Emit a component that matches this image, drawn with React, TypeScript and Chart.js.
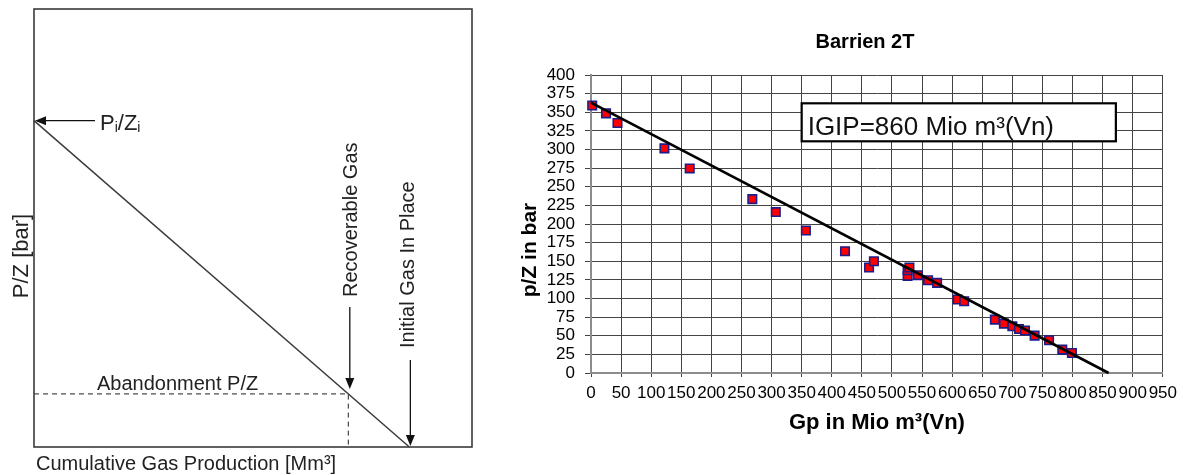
import { useEffect, useRef } from "react";
import { Chart, registerables } from "chart.js";

Chart.register(...registerables);

const FONT = "'Liberation Sans', Arial, Helvetica, sans-serif";

// ---- Left schematic (dimensionless units 0..100) ----
const schematicPiZi = 74.5;
const schematicIGIP = 85.7;
const schematicRecoverable = 71.76;
const schematicAbandonment = 12.12;

// ---- Right chart: Barrien 2T ----
const gpValues = [2, 25, 44, 122, 164, 268, 307, 357, 422, 462, 470, 526, 526, 529, 543, 560, 575, 609, 620, 671, 686, 700, 711, 721, 737, 761, 783, 799];
const pzValues = [359, 348.5, 335.5, 301.5, 274.6, 233.4, 216, 191.3, 163.5, 141.6, 150, 130.3, 138, 141.6, 131.3, 124.5, 121, 98.6, 96.3, 71.7, 66.3, 62.7, 59.1, 57, 50.2, 43.9, 31.4, 26.9];
const fitGp = [0, 860];
const fitPz = [363, 0];
const xTickValues = [0, 50, 100, 150, 200, 250, 300, 350, 400, 450, 500, 550, 600, 650, 700, 750, 800, 850, 900, 950];
const yTickValues = [0, 25, 50, 75, 100, 125, 150, 175, 200, 225, 250, 275, 300, 325, 350, 375, 400];
const igipLabel = "IGIP=860 Mio m³(Vn)";

function drawArrow(ctx: CanvasRenderingContext2D, x1: number, y1: number, x2: number, y2: number, head = 11, half = 4.5) {
  const ang = Math.atan2(y2 - y1, x2 - x1);
  const bx = x2 - head * Math.cos(ang);
  const by = y2 - head * Math.sin(ang);
  ctx.beginPath();
  ctx.moveTo(x1, y1);
  ctx.lineTo(bx, by);
  ctx.stroke();
  ctx.beginPath();
  ctx.moveTo(x2, y2);
  ctx.lineTo(bx + half * Math.sin(ang), by - half * Math.cos(ang));
  ctx.lineTo(bx - half * Math.sin(ang), by + half * Math.cos(ang));
  ctx.closePath();
  ctx.fill();
}

function vText(ctx: CanvasRenderingContext2D, text: string, x: number, y: number, align: CanvasTextAlign) {
  ctx.save();
  ctx.translate(x, y);
  ctx.rotate(-Math.PI / 2);
  ctx.textAlign = align;
  ctx.textBaseline = "middle";
  ctx.fillText(text, 0, 0);
  ctx.restore();
}

const leftDecor = {
  id: "leftDecor",
  afterDraw(chart: any) {
    const { ctx, chartArea: a, scales } = chart;
    const xs = scales.x;
    const ys = scales.y;
    ctx.save();
    ctx.strokeStyle = "#3a3a3a";
    ctx.lineWidth = 1.6;
    ctx.strokeRect(a.left, a.top, a.right - a.left, a.bottom - a.top);

    ctx.strokeStyle = "#111";
    ctx.fillStyle = "#111";
    ctx.lineWidth = 1.3;
    const piY = ys.getPixelForValue(schematicPiZi);
    drawArrow(ctx, a.left + 61, piY, a.left + 1, piY);
    const rx = xs.getPixelForValue(schematicRecoverable) + 1.5;
    const ry = ys.getPixelForValue(schematicAbandonment);
    drawArrow(ctx, rx, ry - 87, rx, ry - 5);
    const ix = xs.getPixelForValue(schematicIGIP) + 1;
    drawArrow(ctx, ix, a.bottom - 87, ix, a.bottom - 1);

    ctx.fillStyle = "#222";
    ctx.textBaseline = "alphabetic";
    ctx.textAlign = "left";
    // Pi/Zi
    let px = 100;
    const base = piY + 9.5;
    ctx.font = `22px ${FONT}`;
    ctx.fillText("P", px, base);
    px += ctx.measureText("P").width;
    ctx.font = `14px ${FONT}`;
    ctx.fillText("i", px, base + 2);
    px += ctx.measureText("i").width;
    ctx.font = `22px ${FONT}`;
    ctx.fillText("/Z", px, base);
    px += ctx.measureText("/Z").width;
    ctx.font = `14px ${FONT}`;
    ctx.fillText("i", px, base + 2);

    ctx.font = `20px ${FONT}`;
    ctx.fillText("Abandonment P/Z", 97, 390);
    ctx.fillText("Cumulative Gas Production [Mm³]", 36, 470);
    vText(ctx, "Recoverable Gas", 351.5, 297, "left");
    vText(ctx, "Initial Gas In Place", 408.5, 348, "left");
    ctx.font = `22px ${FONT}`;
    vText(ctx, "P/Z [bar]", 22, 256, "center");
    ctx.restore();
  },
};

const rightDecor = {
  id: "rightDecor",
  afterDraw(chart: any) {
    const { ctx, scales } = chart;
    const xs = scales.x;
    const ys = scales.y;
    ctx.save();
    // IGIP box
    const bx1 = xs.getPixelForValue(350);
    const bx2 = xs.getPixelForValue(872);
    const by1 = ys.getPixelForValue(362);
    const by2 = ys.getPixelForValue(311);
    ctx.fillStyle = "#fff";
    ctx.fillRect(bx1, by1, bx2 - bx1, by2 - by1);
    ctx.strokeStyle = "#000";
    ctx.lineWidth = 2.2;
    ctx.strokeRect(bx1, by1, bx2 - bx1, by2 - by1);
    ctx.fillStyle = "#111";
    ctx.font = `26px ${FONT}`;
    ctx.textAlign = "left";
    ctx.textBaseline = "alphabetic";
    ctx.fillText(igipLabel, bx1 + 6, by2 - 6);

    // Title
    ctx.fillStyle = "#000";
    ctx.font = `bold 20px ${FONT}`;
    ctx.textAlign = "center";
    ctx.textBaseline = "middle";
    ctx.fillText("Barrien 2T", 385, 42);
    // Y title
    ctx.font = `bold 21px ${FONT}`;
    vText(ctx, "p/Z in bar", 50, 250, "center");
    ctx.restore();
  },
};

export default function App() {
  const leftRef = useRef<HTMLCanvasElement>(null);
  const rightRef = useRef<HTMLCanvasElement>(null);

  useEffect(() => {
    const left = new Chart(leftRef.current as HTMLCanvasElement, {
      type: "scatter",
      data: {
        datasets: [
          {
            data: [
              { x: 0, y: schematicPiZi },
              { x: schematicIGIP, y: 0 },
            ],
            showLine: true,
            borderColor: "#3c3c3c",
            borderWidth: 1.5,
            pointRadius: 0,
            clip: false,
          } as any,
          {
            data: [
              { x: 0, y: schematicAbandonment },
              { x: schematicRecoverable, y: schematicAbandonment },
              { x: schematicRecoverable, y: 0 },
            ],
            showLine: true,
            borderColor: "#222",
            borderWidth: 1,
            borderDash: [5, 4],
            pointRadius: 0,
            clip: false,
          } as any,
        ],
      },
      options: {
        animation: false,
        responsive: false,
        layout: { padding: { left: 34, top: 9, right: 8, bottom: 28 } },
        scales: {
          x: { type: "linear", display: false, min: 0, max: 100 },
          y: { type: "linear", display: false, min: 0, max: 100 },
        },
        plugins: { legend: { display: false }, tooltip: { enabled: false } },
      },
      plugins: [leftDecor],
    });

    const points = gpValues.map((x, i) => ({ x, y: pzValues[i] }));
    const fit = fitGp.map((x, i) => ({ x, y: fitPz[i] }));
    const tickFont = { family: FONT, size: 17 };
    const right = new Chart(rightRef.current as HTMLCanvasElement, {
      type: "scatter",
      data: {
        datasets: [
          {
            data: fit,
            showLine: true,
            borderColor: "#000",
            borderWidth: 2.6,
            pointRadius: 0,
            clip: false,
            order: 0,
          } as any,
          {
            data: points,
            pointStyle: "rect",
            pointRadius: 6,
            backgroundColor: "#ff0000",
            borderColor: "#1c1c8a",
            borderWidth: 1.6,
            clip: false,
            order: 1,
          } as any,
        ],
      },
      options: {
        animation: false,
        responsive: false,
        layout: { padding: { top: 75, right: 20, left: 0, bottom: 0 } },
        plugins: { legend: { display: false }, tooltip: { enabled: false }, title: { display: false } },
        scales: {
          x: {
            type: "linear",
            min: 0,
            max: 950,
            afterBuildTicks: (s: any) => {
              s.ticks = xTickValues.map((v) => ({ value: v }));
            },
            afterFit: (s: any) => {
              s.height = 102;
            },
            ticks: { autoSkip: false, maxRotation: 0, minRotation: 0, padding: 6, color: "#000", font: tickFont },
            grid: { color: "#444", lineWidth: 1, tickLength: 4 },
            border: { color: "#8c8c8c", width: 2 },
            title: {
              display: true,
              text: "Gp in Mio m³(Vn)",
              color: "#000",
              font: { family: FONT, size: 22, weight: "bold" },
              padding: { top: 0, bottom: 39 },
            },
          },
          y: {
            type: "linear",
            min: 0,
            max: 400,
            afterBuildTicks: (s: any) => {
              s.ticks = yTickValues.map((v) => ({ value: v }));
            },
            afterFit: (s: any) => {
              s.width = 111;
            },
            ticks: { autoSkip: false, padding: 10, color: "#000", font: tickFont },
            grid: { color: "#444", lineWidth: 1, tickLength: 6 },
            border: { color: "#8c8c8c", width: 2 },
          },
        },
      } as any,
      plugins: [rightDecor],
    });

    return () => {
      left.destroy();
      right.destroy();
    };
  }, []);

  return (
    <div style={{ position: "fixed", left: 0, top: 0, width: 1183, height: 475, background: "#fff" }}>
      <canvas ref={leftRef} width={480} height={475} style={{ position: "absolute", left: 0, top: 0 }} />
      <canvas ref={rightRef} width={703} height={475} style={{ position: "absolute", left: 480, top: 0 }} />
    </div>
  );
}
